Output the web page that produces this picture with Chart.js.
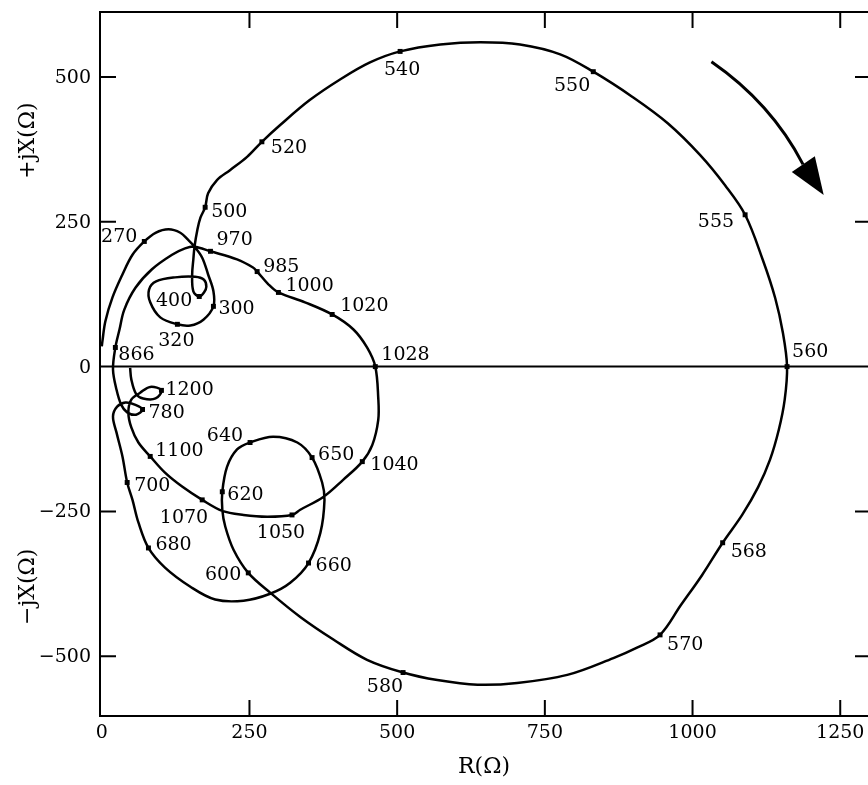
<!DOCTYPE html>
<html>
<head>
<meta charset="utf-8">
<script src="https://cdn.jsdelivr.net/npm/chart.js@4.4.1/dist/chart.umd.min.js"></script>
<style>
  html, body { margin: 0; padding: 0; background: #fff; overflow: hidden; }
  #wrap { width: 868px; height: 785px; position: relative; }
</style>
</head>
<body>
<div id="wrap"><canvas id="c"></canvas></div>
<script>
// Impedance locus: resistance R (Ω) against reactance X (Ω), traced with frequency.
const pathR = [
  0, 1, 6, 18, 35, 52, 72, 91, 113, 133, 146, 157, 170, 180, 189, 189, 172, 150, 128, 99, 82, 80, 92, 124, 158, 173, 177, 173, 165, 155, 153, 155, 157, 162, 167, 175,
  180, 195, 217, 246, 271, 302, 352, 404, 454, 505, 573, 641, 708, 776, 832, 899, 958, 1013, 1055, 1089, 1119, 1140, 1153, 1160, 1156, 1146, 1131, 1111, 1084, 1051, 1016, 980, 945, 906, 866, 788, 703, 636, 568, 510, 449, 392, 336, 285, 248,
  223, 209, 204, 204, 212, 229, 251, 290, 331, 356, 373, 377, 370, 350, 319, 285, 240, 192, 150, 107, 79, 62, 52, 43, 35, 25, 19, 26, 40, 57, 69, 58, 43, 33, 25, 19, 23,
  30, 38, 57, 85, 119, 141, 157, 184, 229, 256, 263, 282, 299, 344, 390, 426, 449, 463, 468, 468, 458, 441, 409, 375, 336, 322, 280, 240, 204, 170, 136, 107, 82, 62, 50, 45, 50, 65, 82, 101, 91, 70, 58, 50, 48
];
const pathX = [
  35, 43, 78, 119, 159, 193, 216, 231, 237, 231, 219, 207, 188, 159, 130, 104, 81, 71, 73, 85, 111, 133, 147, 154, 155, 150, 138, 128, 121, 130, 159, 185, 207, 237, 257, 275,
  299, 322, 339, 362, 388, 417, 460, 496, 525, 544, 556, 560, 556, 539, 509, 465, 420, 365, 313, 262, 184, 118, 58, 0, -57, -109, -161, -208, -256, -304, -360, -412, -463, -485, -503, -532, -546, -549, -541, -528, -506, -471, -432, -390, -356,
  -316, -276, -247, -216, -173, -143, -131, -121, -131, -157, -200, -230, -287, -339, -373, -392, -404, -402, -380, -347, -313, -269, -230, -200, -155, -114, -86, -69, -62, -66, -74, -83, -79, -66, -40, -5, 33,
  64, 98, 136, 168, 193, 204, 207, 199, 185, 171, 164, 142, 128, 111, 90, 64, 33, 0, -54, -92, -135, -164, -195, -225, -247, -256, -259, -256, -249, -230, -207, -183, -155, -131, -105, -79, -57, -45, -35, -41, -55, -55, -47, -22, -2
];

// Frequency marks along the locus
const markFreq = ['270', '300', '320', '400', '500', '520', '540', '550', '555', '560', '568', '570', '580', '600', '620', '640', '650', '660', '680', '700', '780', '866', '970', '985', '1000', '1020', '1028', '1040', '1050', '1070', '1100', '1200'];
const markR = [72, 189, 128, 165, 175, 271, 505, 832, 1089, 1160, 1051, 945, 510, 248, 204, 251, 356, 350, 79, 43, 69, 23, 184, 263, 299, 390, 463, 441, 322, 170, 82, 101];
const markX = [216, 104, 73, 121, 275, 388, 544, 509, 262, 0, -304, -463, -528, -356, -216, -131, -157, -339, -313, -200, -74, 33, 199, 164, 128, 90, 0, -164, -256, -230, -155, -41];

// Where each frequency label sits next to its dot (pixels)
const labelDx = [-7, 5, -1, -7, 6, 9, 2, -3, -11, 5, 8, 7, 0, -7, 5, -7, 6, 7, 7, 7, 6, 3, 6, 6, 7, 8, 6, 8, -11, 6, 5, 4];
const labelDy = [-4, 3, 17, 5, 5, 6, 19, 14, 7, -15, 9, 10, 15, 2, 3, -6, -3, 3, -3, 4, 4, 8, -11, -5, -6, -8, -12, 3, 18, 18, -5, 0];
const labelAlign = ['right', 'left', 'center', 'right', 'left', 'left', 'center', 'right', 'right', 'left', 'left', 'left', 'right', 'right', 'left', 'right', 'left', 'left', 'left', 'left', 'left', 'left', 'left', 'left', 'left', 'left', 'left', 'left', 'center', 'right', 'left', 'left'];

// Axis ticks
const xTickValues = [0, 250, 500, 750, 1000, 1250];
const xTickLabels = ['0', '250', '500', '750', '1000', '1250'];
const yTickValues = [-500, -250, 0, 250, 500];
const yTickLabels = ['\u2212500', '\u2212250', '0', '250', '500'];

// Direction-of-travel arrow (data units): shaft start, control, shaft end, head tip, head corners
const arrowR = [1032, 1133, 1187, 1222, 1168, 1207];
const arrowX = [526, 455, 349, 296, 336, 363];

const FONT = '"DejaVu Serif", "Liberation Serif", serif';

const framePlugin = {
  id: 'frame',
  beforeDatasetsDraw(chart) {
    const { ctx, chartArea: a, scales: { x, y } } = chart;
    const right = a.right + 3;
    ctx.save();
    ctx.strokeStyle = '#000';
    ctx.lineWidth = 2;
    // zero reactance line
    const y0 = y.getPixelForValue(0);
    ctx.beginPath();
    ctx.moveTo(a.left, y0); ctx.lineTo(right, y0);
    ctx.stroke();
    // inward ticks on all four sides
    const L = 16;
    ctx.beginPath();
    xTickValues.forEach(v => {
      const px = x.getPixelForValue(v);
      if (px <= a.left + 2) return;
      ctx.moveTo(px, a.bottom); ctx.lineTo(px, a.bottom - L);
      ctx.moveTo(px, a.top); ctx.lineTo(px, a.top + L);
    });
    yTickValues.forEach(v => {
      const py = y.getPixelForValue(v);
      if (v === 0) return;
      ctx.moveTo(a.left, py); ctx.lineTo(a.left + L, py);
      ctx.moveTo(right, py); ctx.lineTo(right - L, py);
    });
    ctx.stroke();
    // frame
    ctx.strokeRect(a.left, a.top, right - a.left, a.bottom - a.top);
    // tick labels
    ctx.fillStyle = '#000';
    ctx.font = '19px ' + FONT;
    ctx.textAlign = 'center';
    ctx.textBaseline = 'middle';
    xTickValues.forEach((v, i) => ctx.fillText(xTickLabels[i], x.getPixelForValue(v), a.bottom + 17));
    ctx.textAlign = 'right';
    yTickValues.forEach((v, i) => ctx.fillText(yTickLabels[i], a.left - 9, y.getPixelForValue(v) + 1));
    ctx.restore();
  },
  afterDatasetsDraw(chart) {
    const { ctx, scales: { x, y } } = chart;
    ctx.save();
    // frequency labels
    ctx.fillStyle = '#000';
    ctx.font = '19px ' + FONT;
    ctx.textBaseline = 'middle';
    markFreq.forEach((t, i) => {
      ctx.textAlign = labelAlign[i];
      ctx.fillText(t, x.getPixelForValue(markR[i]) + labelDx[i], y.getPixelForValue(markX[i]) + labelDy[i]);
    });
    // arrow
    const P = arrowR.map((r, i) => [x.getPixelForValue(r), y.getPixelForValue(arrowX[i])]);
    ctx.strokeStyle = '#000';
    ctx.lineWidth = 3;
    ctx.beginPath();
    ctx.moveTo(P[0][0], P[0][1]);
    ctx.quadraticCurveTo(P[1][0], P[1][1], P[2][0], P[2][1]);
    ctx.stroke();
    ctx.beginPath();
    ctx.moveTo(P[3][0], P[3][1]);
    ctx.lineTo(P[4][0], P[4][1]);
    ctx.lineTo(P[5][0], P[5][1]);
    ctx.closePath();
    ctx.fill();
    // reactance axis titles
    ctx.font = '22px ' + FONT;
    ctx.textAlign = 'center';
    const yl = (txt, v) => {
      ctx.save();
      ctx.translate(28, y.getPixelForValue(v));
      ctx.rotate(-Math.PI / 2);
      ctx.fillText(txt, 0, 0);
      ctx.restore();
    };
    yl('+jX(\u03A9)', 390);
    yl('\u2212jX(\u03A9)', -380);
    ctx.restore();
  }
};

new Chart(document.getElementById('c'), {
  type: 'scatter',
  data: {
    datasets: [
      {
        data: pathR.map((r, i) => ({ x: r, y: pathX[i] })),
        showLine: true,
        borderColor: '#000',
        borderWidth: 2.5,
        pointRadius: 0,
        tension: 0.35,
        fill: false
      },
      {
        data: markR.map((r, i) => ({ x: r, y: markX[i] })),
        showLine: false,
        pointRadius: 3.5,
        pointStyle: 'rect',
        backgroundColor: '#000',
        borderColor: '#000',
        borderWidth: 0
      }
    ]
  },
  options: {
    responsive: true,
    maintainAspectRatio: false,
    animation: false,
    layout: { autoPadding: false, padding: { top: 12, right: 0, bottom: 0, left: 0 } },
    plugins: { legend: { display: false }, tooltip: { enabled: false } },
    scales: {
      x: {
        type: 'linear',
        min: -3,
        max: 1297,
        grid: { display: false, drawTicks: false },
        border: { display: false },
        afterFit: s => { s.height = 69; },
        ticks: { display: false },
        title: {
          display: true,
          text: 'R(\u03A9)',
          color: '#000',
          font: { family: FONT, size: 22 },
          padding: { top: 4, bottom: 5 }
        }
      },
      y: {
        type: 'linear',
        min: -603,
        max: 612,
        grid: { display: false, drawTicks: false },
        border: { display: false },
        afterFit: s => { s.width = 100; },
        ticks: { display: false }
      }
    }
  },
  plugins: [framePlugin]
});
</script>
</body>
</html>
